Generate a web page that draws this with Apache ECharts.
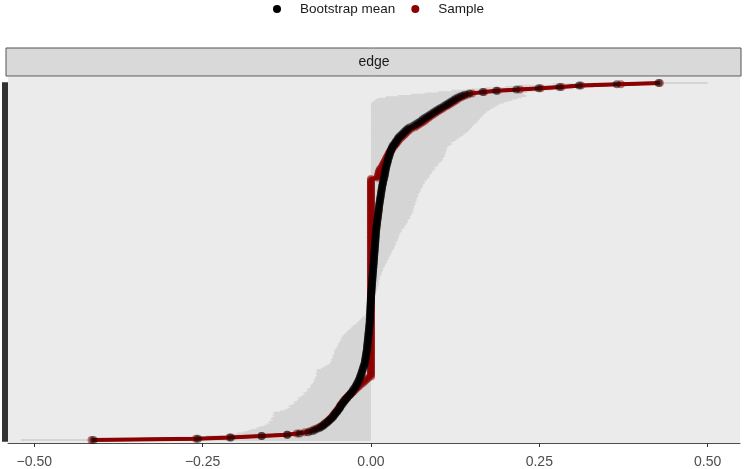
<!DOCTYPE html>
<html>
<head>
<meta charset="utf-8">
<script src="https://cdn.jsdelivr.net/npm/echarts@6/dist/echarts.min.js"></script>
<style>
  html, body { margin: 0; padding: 0; background: #fff; }
  #chart { width: 744px; height: 469px; }
</style>
</head>
<body>
<div id="chart"></div>
<script>
// edges ordered by sample weight, index 0 at the bottom
var sample = [
  -0.415,-0.26,-0.21,-0.163,-0.125,-0.11,-0.098,-0.09,-0.085,-0.08,
  -0.076,-0.073,-0.07,-0.068,-0.065,-0.063,-0.061,-0.059,-0.057,-0.056,
  -0.054,-0.053,-0.051,-0.05,-0.048,-0.047,-0.046,-0.045,-0.043,-0.042,
  -0.04,-0.039,-0.037,-0.035,-0.033,-0.031,-0.029,-0.027,-0.025,-0.023,
  -0.021,-0.019,-0.017,-0.015,-0.012,-0.01,-0.008,-0.006,-0.004,0,
  0,0,0,0,0,0,0,0,0,0,
  0,0,0,0,0,0,0,0,0,0,
  0,0,0,0,0,0,0,0,0,0,
  0,0,0,0,0,0,0,0,0,0,
  0,0,0,0,0,0,0,0,0,0,
  0,0,0,0,0,0,0,0,0,0,
  0,0,0,0,0,0,0,0,0,0,
  0,0,0,0,0,0,0,0,0,0,
  0,0,0,0,0,0,0,0,0,0,
  0,0,0,0,0,0,0,0,0,0,
  0,0,0,0,0,0,0,0,0,0,
  0,0,0,0,0,0,0,0,0,0,
  0,0,0,0,0,0,0,0,0,0,
  0,0,0,0,0,0,0,0,0,0,
  0,0,0,0,0,0,0,0,0,0,
  0,0,0.01,0.01,0.011,0.011,0.012,0.012,0.013,0.014,
  0.016,0.017,0.018,0.019,0.02,0.021,0.022,0.023,0.024,0.025,
  0.026,0.027,0.028,0.03,0.031,0.032,0.034,0.035,0.037,0.038,
  0.04,0.041,0.043,0.045,0.047,0.049,0.051,0.053,0.055,0.057,
  0.06,0.065,0.068,0.071,0.074,0.077,0.08,0.082,0.085,0.087,
  0.09,0.093,0.096,0.099,0.102,0.105,0.108,0.112,0.115,0.118,
  0.121,0.124,0.127,0.13,0.134,0.138,0.143,0.15,0.168,0.188,
  0.221,0.252,0.283,0.312,0.371,0.429
];

var bootMean = [
  -0.412,-0.257,-0.208,-0.162,-0.124,-0.106,-0.093,-0.086,-0.082,-0.077,
  -0.074,-0.071,-0.069,-0.066,-0.064,-0.062,-0.06,-0.058,-0.056,-0.055,
  -0.053,-0.052,-0.05,-0.049,-0.047,-0.046,-0.045,-0.044,-0.042,-0.041,
  -0.039,-0.038,-0.036,-0.035,-0.033,-0.031,-0.03,-0.028,-0.027,-0.026,
  -0.024,-0.023,-0.022,-0.021,-0.02,-0.019,-0.018,-0.017,-0.0165,-0.016,
  -0.015,-0.0143,-0.0137,-0.0131,-0.0125,-0.012,-0.0113,-0.0106,-0.01,-0.0095,
  -0.009,-0.0087,-0.0084,-0.0081,-0.0078,-0.0075,-0.0072,-0.0068,-0.0065,-0.0062,
  -0.006,-0.0058,-0.0056,-0.0054,-0.0052,-0.005,-0.0048,-0.0046,-0.0044,-0.0042,
  -0.004,-0.0038,-0.0036,-0.0034,-0.0032,-0.003,-0.0028,-0.0026,-0.0024,-0.0022,
  -0.002,-0.0019,-0.0018,-0.0017,-0.0016,-0.0015,-0.0014,-0.0013,-0.0012,-0.0011,
  -0.001,-0.0009,-0.0008,-0.0007,-0.0006,-0.0005,-0.0004,-0.0003,-0.0002,-0.0001,
  0,0.0002,0.0003,0.0005,0.0006,0.0008,0.0009,0.0011,0.0012,0.0014,
  0.0015,0.0016,0.0018,0.0019,0.0021,0.0022,0.0024,0.0025,0.0027,0.0028,
  0.003,0.0032,0.0033,0.0035,0.0036,0.0038,0.0039,0.0041,0.0042,0.0044,
  0.0045,0.0046,0.0048,0.0049,0.0051,0.0052,0.0054,0.0055,0.0057,0.0058,
  0.006,0.0061,0.0063,0.0064,0.0066,0.0067,0.0068,0.007,0.0071,0.0073,
  0.0074,0.0076,0.0078,0.008,0.0083,0.0085,0.0087,0.0089,0.0092,0.0094,
  0.0096,0.0099,0.0102,0.0104,0.0107,0.011,0.0112,0.0114,0.0116,0.0118,
  0.012,0.0123,0.0126,0.0129,0.0132,0.0135,0.0138,0.0141,0.0144,0.0147,
  0.015,0.0153,0.0156,0.0159,0.0162,0.0165,0.0169,0.0173,0.0177,0.0181,
  0.0185,0.019,0.0195,0.02,0.0203,0.0207,0.021,0.0213,0.0217,0.022,
  0.0225,0.023,0.0235,0.024,0.0245,0.025,0.0255,0.026,0.0266,0.0272,
  0.0278,0.0284,0.029,0.0296,0.0302,0.031,0.032,0.033,0.035,0.036,
  0.037,0.039,0.04,0.041,0.043,0.045,0.047,0.049,0.051,0.053,
  0.055,0.058,0.063,0.066,0.069,0.072,0.075,0.077,0.08,0.083,
  0.086,0.089,0.092,0.095,0.098,0.101,0.104,0.108,0.111,0.114,
  0.117,0.12,0.123,0.126,0.13,0.134,0.139,0.146,0.166,0.186,
  0.216,0.249,0.28,0.309,0.365,0.427
];

var ciLower = [
  -0.52,-0.34,-0.29,-0.245,-0.215,-0.199,-0.19,-0.183,-0.178,-0.17,
  -0.165,-0.158,-0.155,-0.15,-0.152,-0.146,-0.149,-0.147,-0.144,-0.146,
  -0.143,-0.145,-0.135,-0.128,-0.124,-0.12,-0.122,-0.117,-0.113,-0.115,
  -0.11,-0.107,-0.109,-0.105,-0.102,-0.098,-0.1,-0.096,-0.093,-0.095,
  -0.091,-0.089,-0.09,-0.087,-0.086,-0.084,-0.085,-0.082,-0.083,-0.081,
  -0.08,-0.082,-0.079,-0.081,-0.08,-0.074,-0.07,-0.066,-0.063,-0.061,
  -0.06,-0.058,-0.059,-0.057,-0.056,-0.057,-0.055,-0.054,-0.055,-0.053,
  -0.053,-0.051,-0.05,-0.048,-0.049,-0.047,-0.046,-0.044,-0.045,-0.043,
  -0.042,-0.04,-0.038,-0.036,-0.034,-0.032,-0.03,-0.028,-0.026,-0.023,
  -0.021,-0.019,-0.017,-0.015,-0.013,-0.011,-0.009,-0.008,-0.006,-0.005,
  -0.004,-0.004,-0.003,-0.003,-0.002,-0.002,-0.001,-0.001,-0.001,0,
  0,0,0,0,0,0,0,0,0,0,
  0,0,0,0,0,0,0,0,0,0,
  0,0,0,0,0,0,0,0,0,0,
  0,0,0,0,0,0,0,0,0,0,
  0,0,0,0,0,0,0,0,0,0,
  0,0,0,0,0,0,0,0,0,0,
  0,0,0,0,0,0,0,0,0,0,
  0,0,0,0,0,0,0,0,0,0,
  0,0,0,0,0,0,0,0,0,0,
  0,0,0,0,0,0,0,0,0,0,
  0,0,0,0,0,0,0,0,0,0,
  0,0,0,0,0,0,0,0,0,0,
  0,0,0,0,0,0,0,0,0,0,
  0,0,0,0,0,0,0,0,0,0,
  0,0,0,0,0,0,0,0,0,0,
  0.002,0.005,0.007,0.01,0.022,0.04,0.06,0.08,0.1,0.12,
  0.15,0.17,0.2,0.22,0.27,0.33
];

var ciUpper = [
  0,0,0,0,0,0,0,0,0,0,
  0,0,0,0,0,0,0,0,0,0,
  0,0,0,0,0,0,0,0,0,0,
  0,0,0,0,0,0,0,0,0,0,
  0,0,0,0,0,0,0,0,0,0,
  0,0,0,0,0,0,0,0,0,0,
  0,0,0,0,0,0,0,0,0,0,
  0,0,0,0,0,0,0,0,0,0,
  0,0,0,0,0,0,0,0,0,0,
  0,0,0,0,0,0,0,0,0,0,
  0.0005,0.001,0.001,0.0015,0.002,0.002,0.003,0.003,0.004,0.004,
  0.005,0.006,0.007,0.006,0.008,0.008,0.009,0.01,0.009,0.011,
  0.011,0.012,0.011,0.012,0.013,0.012,0.013,0.015,0.016,0.015,
  0.017,0.018,0.017,0.019,0.021,0.02,0.022,0.024,0.023,0.025,
  0.027,0.026,0.028,0.03,0.029,0.031,0.032,0.033,0.035,0.034,
  0.036,0.037,0.036,0.038,0.04,0.039,0.041,0.042,0.041,0.043,
  0.044,0.046,0.045,0.048,0.05,0.049,0.052,0.053,0.055,0.054,
  0.056,0.058,0.057,0.059,0.06,0.062,0.061,0.063,0.062,0.064,
  0.063,0.065,0.066,0.065,0.067,0.068,0.067,0.069,0.07,0.069,
  0.071,0.072,0.074,0.073,0.075,0.077,0.076,0.078,0.08,0.079,
  0.082,0.083,0.085,0.087,0.086,0.089,0.091,0.09,0.093,0.095,
  0.094,0.098,0.1,0.099,0.103,0.105,0.107,0.106,0.108,0.11,
  0.109,0.111,0.11,0.112,0.113,0.112,0.114,0.117,0.12,0.119,
  0.123,0.126,0.128,0.131,0.134,0.137,0.139,0.142,0.144,0.146,
  0.148,0.15,0.151,0.153,0.155,0.157,0.159,0.161,0.162,0.164,
  0.166,0.168,0.17,0.172,0.175,0.178,0.182,0.185,0.188,0.191,
  0.197,0.204,0.21,0.217,0.224,0.231,0.228,0.225,0.232,0.25,
  0.27,0.3,0.33,0.36,0.42,0.5
];

var xTicks = [-0.5, -0.25, 0, 0.25, 0.5];
var stripLabel = 'edge';

var edges = [];
for (var i = 0; i < sample.length; i++) edges.push('edge ' + (i + 1));

var ribbonData = ciLower.map(function (l, i) { return [l, ciUpper[i], i]; });
var sampleData = sample.map(function (v, i) { return [v, i]; });
var meanData = bootMean.map(function (v, i) { return [v, i]; });

var RED = '#8B0000';
var xMin = -0.539, xMax = 0.548;

var myChart = echarts.init(document.getElementById('chart'));

option = {
    animation: false,
    textStyle: { fontFamily: 'Liberation Sans, Arial, sans-serif' },
    legend: {
        top: -3,
        left: 268,
        itemWidth: 26,
        itemHeight: 8,
        itemGap: 16,
        textStyle: { fontSize: 13.5, color: '#1a1a1a', padding: [0, 0, 0, 5] },
        data: [
            { name: 'Bootstrap mean', icon: 'circle' },
            { name: 'Sample', icon: 'circle' }
        ]
    },
    graphic: [
        {
            type: 'rect',
            shape: { x: 6, y: 48, width: 735, height: 28 },
            style: { fill: '#D9D9D9', stroke: '#555', lineWidth: 1 },
            z: 0
        },
        {
            type: 'text',
            x: 374, y: 62,
            style: {
                text: stripLabel, fill: '#1a1a1a', fontSize: 14,
                fontFamily: 'Liberation Sans, Arial, sans-serif',
                align: 'center', verticalAlign: 'middle'
            }
        }
    ],
    grid: [
        { left: 8, right: 4, top: 77, bottom: 26, show: true, backgroundColor: '#EBEBEB', borderWidth: 0 },
        { left: 8, right: 4, top: 83, bottom: 29 }
    ],
    xAxis: [
        {
            gridIndex: 0, type: 'value', min: xMin, max: xMax,
            axisLine: { show: true, lineStyle: { color: '#4d4d4d', width: 1 } },
            axisTick: { show: true, length: 4, customValues: xTicks, lineStyle: { color: '#333' } },
            axisLabel: {
                customValues: xTicks, color: '#4d4d4d', fontSize: 14, margin: 12,
                formatter: function (v) { return v.toFixed(2).replace('-', '\u2212'); }
            },
            splitLine: { show: false }
        },
        { gridIndex: 1, type: 'value', min: xMin, max: xMax, show: false }
    ],
    yAxis: [
        { gridIndex: 0, type: 'value', show: false },
        {
            gridIndex: 1, type: 'category', data: edges, boundaryGap: false,
            position: 'left',
            axisLine: { show: false, onZero: false },
            axisLabel: { show: false },
            axisTick: { show: true, interval: 0, length: 6, lineStyle: { color: '#333', width: 2.5 } },
            splitLine: { show: false }
        }
    ],
    series: [
        {
            name: 'ci', type: 'custom', xAxisIndex: 1, yAxisIndex: 1,
            data: ribbonData,
            encode: { x: [0, 1], y: 2 },
            silent: true,
            renderItem: function (params, api) {
                var row = api.value(2);
                var a = api.coord([api.value(0), row]);
                var b = api.coord([api.value(1), row]);
                var h = api.size([0, 1])[1];
                return {
                    type: 'rect',
                    shape: { x: a[0], y: a[1] - h / 2 - 0.3, width: b[0] - a[0], height: h + 0.6 },
                    style: { fill: '#D5D5D5' }
                };
            },
            z: 1
        },
        {
            name: 'Bootstrap mean', type: 'line', xAxisIndex: 1, yAxisIndex: 1,
            data: meanData, showSymbol: false,
            lineStyle: { color: '#000', width: 3 },
            itemStyle: { color: '#000' },
            z: 2
        },
        {
            name: 'Sample', type: 'line', xAxisIndex: 1, yAxisIndex: 1,
            data: sampleData, showSymbol: false,
            lineStyle: { color: RED, width: 4 },
            itemStyle: { color: RED },
            z: 3
        },
        {
            name: 'Sample', type: 'scatter', xAxisIndex: 1, yAxisIndex: 1,
            data: sampleData, symbolSize: 8,
            itemStyle: { color: RED, opacity: 0.5 },
            z: 4
        },
        {
            name: 'Bootstrap mean', type: 'scatter', xAxisIndex: 1, yAxisIndex: 1,
            data: meanData, symbolSize: 8,
            itemStyle: { color: '#000', opacity: 0.5 },
            z: 5
        }
    ]
};

myChart.setOption(option);
</script>
</body>
</html>
